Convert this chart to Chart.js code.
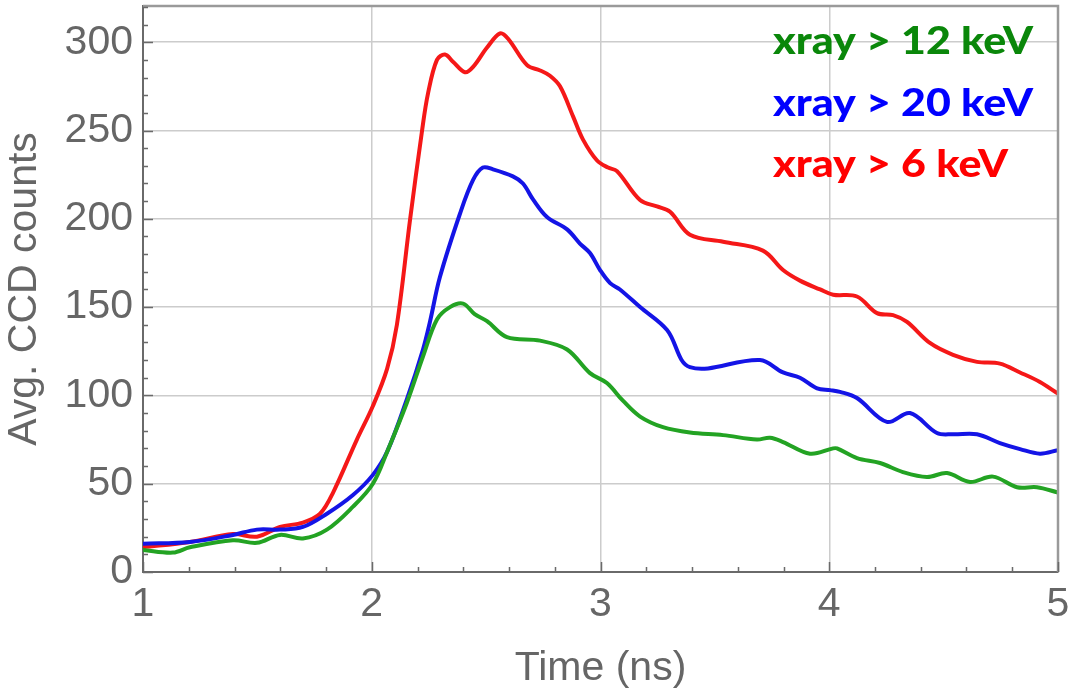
<!DOCTYPE html>
<html>
<head>
<meta charset="utf-8">
<script src="https://cdn.jsdelivr.net/npm/chart.js@4.4.1/dist/chart.umd.min.js"></script>
<style>
  html, body { margin: 0; padding: 0; background: #ffffff; }
  #c { display: block; }
</style>
</head>
<body>
<canvas id="c" width="1076" height="699"></canvas>
<script>
// Average CCD counts versus time for three x-ray energy thresholds.
const seriesLabels = ['xray > 12 keV', 'xray > 20 keV', 'xray > 6 keV'];

const time12 = [1.0, 1.131, 1.205, 1.393, 1.498, 1.599, 1.699, 1.804, 1.918, 2.005, 2.067, 2.154, 2.224, 2.285, 2.342, 2.399, 2.45, 2.504, 2.591, 2.736, 2.854, 2.954, 3.028, 3.098, 3.173, 3.273, 3.391, 3.536, 3.684, 3.741, 3.798, 3.916, 4.017, 4.034, 4.121, 4.222, 4.322, 4.427, 4.515, 4.615, 4.716, 4.821, 4.908, 5.0];
const counts12 = [12.5, 11, 14, 18, 16.5, 21, 19, 24, 37, 50, 68, 96, 122, 143, 150, 152, 146, 142, 133, 131, 126, 112.6, 107, 97, 88, 82, 79, 77.5, 75, 76, 73.6, 67, 70, 70, 64.5, 61.7, 56.6, 53.8, 56, 51, 54, 48, 48, 45];

const time20 = [1.0, 1.205, 1.393, 1.498, 1.599, 1.699, 1.804, 1.918, 2.005, 2.067, 2.154, 2.224, 2.255, 2.298, 2.386, 2.443, 2.486, 2.530, 2.617, 2.661, 2.705, 2.766, 2.854, 2.910, 2.954, 2.998, 3.042, 3.085, 3.173, 3.291, 3.391, 3.697, 3.798, 3.872, 3.947, 4.004, 4.047, 4.121, 4.252, 4.353, 4.471, 4.541, 4.646, 4.746, 4.834, 4.921, 5.0];
const counts20 = [16, 17, 21, 24, 24, 25.5, 33, 43.6, 55, 68, 98, 126, 142, 167, 203, 222, 229, 228, 224, 220, 211, 201, 194, 186, 180.6, 171, 163.6, 160, 150, 137, 116, 120, 113, 110, 104, 103, 102, 98.5, 85, 90, 78.7, 78, 78, 73, 69.6, 67, 69];

const time6 = [1.0, 1.205, 1.393, 1.498, 1.599, 1.699, 1.774, 1.831, 1.935, 2.005, 2.067, 2.110, 2.167, 2.220, 2.246, 2.285, 2.320, 2.355, 2.408, 2.443, 2.504, 2.561, 2.596, 2.679, 2.736, 2.779, 2.823, 2.880, 2.923, 2.985, 3.033, 3.072, 3.173, 3.247, 3.304, 3.391, 3.536, 3.710, 3.798, 3.872, 3.960, 4.017, 4.121, 4.209, 4.279, 4.340, 4.440, 4.541, 4.646, 4.746, 4.834, 4.921, 5.0];
const counts6 = [14, 17, 21.5, 20, 25.5, 28, 33, 45, 75, 94, 115, 140, 199, 250, 271, 290, 293, 289, 283, 286, 297, 305, 302, 287, 284, 281, 275, 258, 245, 233, 229, 227, 210.6, 207, 204, 191, 187, 182, 171, 165, 160, 157, 156, 146.6, 145.5, 141.6, 129.7, 123, 119, 118, 113, 107.6, 101];

const xTickValues = [1, 2, 3, 4, 5];
const yTickValues = [0, 50, 100, 150, 200, 250, 300];

const lineColors = ['#23a323', '#1414e6', '#f51818'];
const labelColors = ['#0a870a', '#0000ff', '#ff0000'];

function toPoints(xs, ys) { return xs.map((x, i) => ({ x: x, y: ys[i] })); }

const seriesData = [toPoints(time12, counts12), toPoints(time20, counts20), toPoints(time6, counts6)];

const datasets = seriesData.map((pts, i) => ({
  label: seriesLabels[i],
  data: pts,
  borderColor: lineColors[i],
  labelColor: labelColors[i],
  borderWidth: 4,
  pointRadius: 0,
  fill: false,
  tension: 0.35,
  borderCapStyle: 'round',
  borderJoinStyle: 'round'
}));

const axisFont = { family: "'Liberation Sans', Arial, sans-serif", size: 41 };
const axisGray = '#666666';

function clearScalePadding(s) {
  s.paddingTop = 0; s.paddingBottom = 0; s.paddingLeft = 0; s.paddingRight = 0;
}

// Inward major/minor tick marks, the top and right frame, and the series key.
const frameTicks = {
  id: 'frameTicks',
  afterDatasetsDraw(chart) {
    const { ctx, chartArea: a, scales } = chart;
    const xs = scales.x, ys = scales.y;
    ctx.save();
    ctx.strokeStyle = '#9a9a9a';
    ctx.lineWidth = 2.5;
    ctx.beginPath();
    ctx.moveTo(a.left, a.top); ctx.lineTo(a.right, a.top); ctx.lineTo(a.right, a.bottom);
    ctx.stroke();
    ctx.strokeStyle = '#6a6a6a';
    ctx.lineWidth = 1.5;
    ctx.beginPath();
    for (let k = 0; k <= 20; k++) {
      const v = 1 + k * 0.2;
      const px = Math.round(xs.getPixelForValue(v)) + 0.5;
      const len = (k % 5 === 0) ? 10 : 5;
      ctx.moveTo(px, a.bottom); ctx.lineTo(px, a.bottom - len);
    }
    for (let v = 0; v <= 320; v += 10) {
      const py = Math.round(ys.getPixelForValue(v)) + 0.5;
      const len = (v % 50 === 0) ? 10 : 5;
      ctx.moveTo(a.left, py); ctx.lineTo(a.left + len, py);
    }
    ctx.stroke();
    ctx.restore();
  },
  afterDraw(chart) {
    const { ctx } = chart;
    ctx.save();
    ctx.font = "900 37px Lato, 'Open Sans', sans-serif";
    ctx.textAlign = 'left';
    ctx.textBaseline = 'alphabetic';
    const baselines = [54, 116, 177];
    const left = 773;
    const refWidth = ctx.measureText(chart.data.datasets[0].label).width;
    const stretch = 260 / refWidth;
    chart.data.datasets.forEach((ds, i) => {
      ctx.save();
      ctx.translate(left, baselines[i]);
      ctx.scale(stretch, 1);
      ctx.fillStyle = ds.labelColor;
      ctx.fillText(ds.label, 0, 0);
      ctx.restore();
    });
    ctx.restore();
  }
};

new Chart(document.getElementById('c'), {
  type: 'line',
  data: { datasets: datasets },
  plugins: [frameTicks],
  options: {
    responsive: false,
    animation: false,
    devicePixelRatio: 1,
    layout: { autoPadding: false, padding: { left: 0, right: 18, top: 6, bottom: 0 } },
    plugins: { legend: { display: false }, tooltip: { enabled: false } },
    scales: {
      x: {
        type: 'linear',
        min: 1, max: 5,
        afterBuildTicks(s) { s.ticks = xTickValues.map(v => ({ value: v })); },
        afterFit(s) { s.height = 127; clearScalePadding(s); },
        ticks: { color: axisGray, font: axisFont, padding: 8, maxRotation: 0, autoSkip: false },
        grid: {
          color: c => (c.tick && c.tick.value === 1) ? 'rgba(0,0,0,0)' : '#cccccc',
          lineWidth: 1.5,
          drawTicks: false
        },
        border: { color: '#6a6a6a', width: 2 },
        title: { display: true, text: 'Time (ns)', color: axisGray, font: axisFont, padding: { top: 0, bottom: 6 } }
      },
      y: {
        type: 'linear',
        min: 0, max: 320.5,
        afterBuildTicks(s) { s.ticks = yTickValues.map(v => ({ value: v })); },
        afterFit(s) { s.width = 143; clearScalePadding(s); },
        ticks: { color: axisGray, font: axisFont, padding: 10 },
        grid: {
          color: c => (c.tick && c.tick.value === 0) ? 'rgba(0,0,0,0)' : '#cccccc',
          lineWidth: 1.5,
          drawTicks: false
        },
        border: { color: '#6a6a6a', width: 2 },
        title: { display: true, text: 'Avg. CCD counts', color: axisGray, font: axisFont, padding: { top: 0, bottom: 0 } }
      }
    }
  }
});
</script>
</body>
</html>
